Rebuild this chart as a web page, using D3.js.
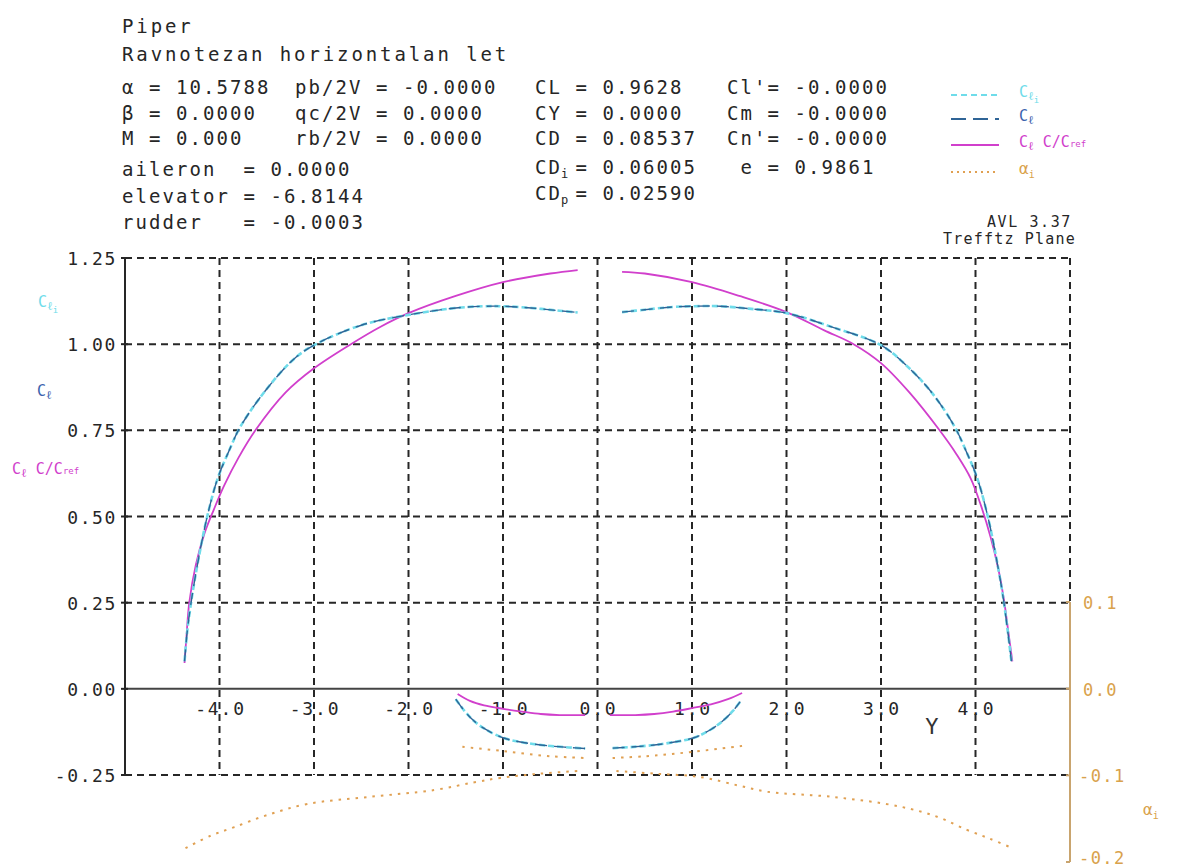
<!DOCTYPE html>
<html>
<head>
<meta charset="utf-8">
<script src="https://cdn.jsdelivr.net/npm/d3@7"></script>
<style>
  body { margin: 0; background: #fff; }
  text { font-family: "DejaVu Sans Mono", monospace; white-space: pre; }
</style>
</head>
<body>
<div id="chart"></div>
<script>
// axis ticks
var clTicks = [1.25, 1.00, 0.75, 0.50, 0.25, 0.00, -0.25];
var spanTicks = [-4, -3, -2, -1, 0, 1, 2, 3, 4];
var alphaTicks = [0.1, 0.0, -0.1, -0.2];

// header text
var titleLines = ["Piper", "Ravnotezan horizontalan let"];
var runCol1 = ["α = 10.5788", "β = 0.0000", "M = 0.000"];
var runCol2 = ["pb/2V = -0.0000", "qc/2V = 0.0000", "rb/2V = 0.0000"];
var controlRows = ["aileron  = 0.0000", "elevator = -6.8144", "rudder   = -0.0003"];
var forceCol3 = ["CL = 0.9628", "CY = 0.0000", "CD = 0.08537"];
var dragRows = [["CD", "i", "= 0.06005"], ["CD", "p", "= 0.02590"]];
var momentCol4 = ["Cl'= -0.0000", "Cm = -0.0000", "Cn'= -0.0000", " e = 0.9861"];

// Cl c/cref  [span y, value]
var clcWingL = [[-4.37,0.075],[-4.35,0.15],[-4.32,0.25],[-4.25,0.36],[-4.16,0.45],[-4.06,0.52],[-3.95,0.59],
  [-3.80,0.67],[-3.62,0.75],[-3.30,0.86],[-3.00,0.93],[-2.61,1.00],[-2.30,1.05],[-2.00,1.09],[-1.50,1.14],
  [-1.00,1.18],[-0.50,1.205],[-0.21,1.215]];
var clcWingR = [[0.26,1.21],[0.50,1.205],[1.00,1.18],[1.50,1.14],[2.00,1.093],[2.40,1.04],[2.71,1.00],
  [3.00,0.945],[3.30,0.86],[3.62,0.75],[3.80,0.68],[3.95,0.61],[4.06,0.53],[4.16,0.44],[4.24,0.35],
  [4.30,0.26],[4.35,0.16],[4.39,0.08]];
var clcTailL = [[-1.48,-0.015],[-1.35,-0.035],[-1.20,-0.048],[-1.00,-0.058],[-0.80,-0.066],[-0.60,-0.073],
  [-0.40,-0.076],[-0.13,-0.076]];
var clcTailR = [[0.13,-0.076],[0.40,-0.076],[0.60,-0.073],[0.80,-0.066],[1.00,-0.056],[1.20,-0.045],
  [1.38,-0.030],[1.53,-0.012]];

// Cl and Cl_i (the two curves lie on top of each other)
var clWingL = [[-4.37,0.08],[-4.34,0.17],[-4.29,0.27],[-4.22,0.38],[-4.13,0.50],[-4.02,0.61],[-3.90,0.69],
  [-3.78,0.76],[-3.50,0.87],[-3.20,0.96],[-2.98,1.00],[-2.50,1.055],[-2.00,1.085],[-1.50,1.105],
  [-1.20,1.11],[-1.00,1.11],[-0.70,1.105],[-0.40,1.097],[-0.21,1.092]];
var clWingR = [[0.26,1.093],[0.50,1.10],[0.80,1.108],[1.00,1.11],[1.30,1.11],[1.60,1.103],[2.00,1.09],
  [2.50,1.048],[3.00,0.997],[3.30,0.93],[3.55,0.855],[3.78,0.76],[3.90,0.69],[4.02,0.61],[4.13,0.50],
  [4.22,0.38],[4.29,0.27],[4.34,0.17],[4.38,0.08]];
var clTailL = [[-1.50,-0.03],[-1.42,-0.06],[-1.32,-0.09],[-1.20,-0.115],[-1.00,-0.142],[-0.80,-0.155],
  [-0.53,-0.165],[-0.30,-0.170],[-0.13,-0.173]];
var clTailR = [[0.16,-0.172],[0.35,-0.169],[0.60,-0.163],[0.80,-0.155],[1.02,-0.142],[1.20,-0.118],
  [1.33,-0.092],[1.43,-0.065],[1.51,-0.037]];

// alpha_i on the right hand scale
var alphaWingL = [[-4.36,-0.184],[-4.10,-0.170],[-3.85,-0.160],[-3.50,-0.146],[-3.07,-0.133],
  [-2.43,-0.125],[-1.73,-0.117],[-1.30,-0.108],[-1.03,-0.103],[-0.60,-0.098],[-0.20,-0.095]];
var alphaWingR = [[0.20,-0.095],[0.60,-0.098],[1.09,-0.102],[1.50,-0.112],[1.80,-0.119],[2.50,-0.125],
  [3.20,-0.136],[3.60,-0.148],[3.91,-0.163],[4.15,-0.173],[4.39,-0.184]];
var alphaTailL = [[-1.43,-0.067],[-1.00,-0.072],[-0.50,-0.078],[-0.13,-0.080]];
var alphaTailR = [[0.16,-0.080],[0.50,-0.078],[1.00,-0.073],[1.53,-0.066]];

var colors = {
  cli: "#6fdcea",
  cl: "#2f6496",
  clText: "#3b63ad",
  clc: "#d13fcc",
  alpha: "#e0a052",
  alphaText: "#d9a24c",
  alphaAxis: "#c9a46e",
  ink: "#262626"
};

var width = 1182, height = 868;

var svg = d3.select("#chart").append("svg")
    .attr("width", width)
    .attr("height", height);

var x = d3.scaleLinear().domain([-5, 5]).range([125, 1070]),
    y = d3.scaleLinear().domain([-0.25, 1.25]).range([775, 258]),
    a = d3.scaleLinear().domain([-0.2, 0.1]).range([862, 602]);

var mono = function(sel, size, ls) {
  return sel.attr("font-size", size).attr("letter-spacing", ls);
};

// ---- header
var head = svg.append("g").attr("fill", colors.ink);

titleLines.forEach(function(t, i) {
  mono(head.append("text"), 19, 2.9).attr("x", 122).attr("y", 33 + i * 28).text(t);
});
runCol1.forEach(function(t, i) {
  mono(head.append("text"), 19, 2.06).attr("x", 122).attr("y", 94 + i * 25.5).text(t);
});
runCol2.forEach(function(t, i) {
  mono(head.append("text"), 19, 2.06).attr("x", 295).attr("y", 94 + i * 25.5).text(t);
});
controlRows.forEach(function(t, i) {
  mono(head.append("text"), 19, 2.06).attr("x", 122).attr("y", 176 + i * 26.5).text(t);
});
forceCol3.forEach(function(t, i) {
  mono(head.append("text"), 19, 2.06).attr("x", 535).attr("y", 94 + i * 25.5).text(t);
});
dragRows.forEach(function(r, i) {
  var yy = 174 + i * 25.5;
  mono(head.append("text"), 19, 2.06).attr("x", 535).attr("y", yy).text(r[0]);
  head.append("text").attr("font-size", 12).attr("x", 561).attr("y", yy + 4).text(r[1]);
  mono(head.append("text"), 19, 2.06).attr("x", 575.5).attr("y", yy).text(r[2]);
});
momentCol4.forEach(function(t, i) {
  var yy = i < 3 ? 94 + i * 25.5 : 174;
  mono(head.append("text"), 19, 2.06).attr("x", 727).attr("y", yy).text(t);
});

mono(head.append("text"), 15, 1.6).attr("x", 1072).attr("y", 227)
    .attr("text-anchor", "end").text("AVL 3.37");
mono(head.append("text"), 15, 1.2).attr("x", 1076).attr("y", 244)
    .attr("text-anchor", "end").text("Trefftz Plane");

// label with small sub parts: [text, size, dy]
function subLabel(g, px, py, color, parts) {
  var t = g.append("text").attr("x", px).attr("y", py).attr("fill", color);
  parts.forEach(function(p) {
    t.append("tspan").attr("font-size", p[1]).attr("dy", p[2]).text(p[0]);
  });
  return t;
}
var cliParts = [["C", 15, 0], ["ℓ", 12, 3], ["i", 9, 3]];
var clParts = [["C", 15, 0], ["ℓ", 12, 3]];
var clcParts = [["C", 15, 0], ["ℓ", 12, 3], [" C/C", 15, -3], ["ref", 9, 0]];
var alphaParts = [["α", 16, 0], ["i", 10, 4]];

// ---- grid
var grid = svg.append("g")
    .attr("stroke", colors.ink)
    .attr("stroke-width", 2)
    .attr("stroke-dasharray", "7,5");

grid.selectAll(".hgrid")
  .data(clTicks.filter(function(d) { return d !== 0; }))
  .enter().append("line")
    .attr("x1", x(-5)).attr("x2", x(5))
    .attr("y1", function(d) { return y(d); })
    .attr("y2", function(d) { return y(d); });

grid.selectAll(".vgrid")
  .data(spanTicks.concat([5]))
  .enter().append("line")
    .attr("x1", function(d) { return x(d); })
    .attr("x2", function(d) { return x(d); })
    .attr("y1", y(1.25)).attr("y2", y(-0.25));

// zero line and left axis
svg.append("line")
    .attr("x1", x(-5)).attr("x2", x(5))
    .attr("y1", y(0)).attr("y2", y(0))
    .attr("stroke", "#444").attr("stroke-width", 2);
svg.append("line")
    .attr("x1", x(-5)).attr("x2", x(-5))
    .attr("y1", y(1.25) - 1).attr("y2", y(-0.25) + 1)
    .attr("stroke", colors.ink).attr("stroke-width", 2);

svg.selectAll(".ytick")
  .data(clTicks)
  .enter().append("line")
    .attr("x1", x(-5) - 4).attr("x2", x(-5) + 3)
    .attr("y1", function(d) { return y(d); })
    .attr("y2", function(d) { return y(d); })
    .attr("stroke", colors.ink).attr("stroke-width", 2);

svg.selectAll(".ylabel")
  .data(clTicks)
  .enter().append("text")
    .attr("x", 117)
    .attr("y", function(d) { return y(d) + 7; })
    .attr("text-anchor", "end")
    .attr("font-size", 18).attr("letter-spacing", 1.6)
    .attr("fill", colors.ink)
    .text(function(d) { return d3.format(".2f")(d).replace("−", "-"); });

svg.selectAll(".xlabel")
  .data(spanTicks)
  .enter().append("text")
    .attr("x", function(d) { return x(d) + 1; })
    .attr("y", y(0) + 26)
    .attr("text-anchor", "middle")
    .attr("font-size", 18).attr("letter-spacing", 1.8)
    .attr("fill", colors.ink)
    .text(function(d) { return d3.format(".1f")(d).replace("−", "-"); });

svg.append("text")
    .attr("x", x(3.5) - 3).attr("y", y(0) + 45)
    .attr("font-size", 22).attr("fill", "#333")
    .text("Y");

// left axis series names
subLabel(svg, 38, 307, colors.cli, cliParts);
subLabel(svg, 37, 396, colors.clText, clParts);
subLabel(svg, 12, 474, colors.clc, clcParts);

// ---- alpha_i axis on the right
svg.append("line")
    .attr("x1", x(5)).attr("x2", x(5))
    .attr("y1", a(0.1)).attr("y2", a(-0.2))
    .attr("stroke", colors.alphaAxis).attr("stroke-width", 2);
svg.selectAll(".atick")
  .data(alphaTicks)
  .enter().append("line")
    .attr("x1", x(5) - 4).attr("x2", x(5))
    .attr("y1", function(d) { return a(d); })
    .attr("y2", function(d) { return a(d); })
    .attr("stroke", colors.alphaAxis).attr("stroke-width", 2);
svg.selectAll(".alabel")
  .data(alphaTicks)
  .enter().append("text")
    .attr("x", function(d) { return d < 0 ? 1079 : 1083; })
    .attr("y", function(d) { return Math.min(a(d) + 7, 864); })
    .attr("font-size", 17).attr("letter-spacing", 1.4)
    .attr("fill", colors.alphaText)
    .text(function(d) { return d3.format(".1f")(d).replace("−", "-"); });
subLabel(svg, 1143, 815, colors.alphaText, alphaParts);

// ---- curves
var clLine = d3.line()
    .x(function(d) { return x(d[0]); })
    .y(function(d) { return y(d[1]); })
    .curve(d3.curveCatmullRom.alpha(0.5));
var alphaLine = d3.line()
    .x(function(d) { return x(d[0]); })
    .y(function(d) { return a(d[1]); })
    .curve(d3.curveCatmullRom.alpha(0.5));

var curves = svg.append("g").attr("fill", "none");

curves.selectAll(".alpha")
  .data([alphaWingL, alphaWingR, alphaTailL, alphaTailR])
  .enter().append("path")
    .attr("d", alphaLine)
    .attr("stroke", colors.alpha)
    .attr("stroke-width", 2)
    .attr("stroke-dasharray", "2.5,6");

curves.selectAll(".clc")
  .data([clcWingL, clcWingR, clcTailL, clcTailR])
  .enter().append("path")
    .attr("d", clLine)
    .attr("stroke", colors.clc)
    .attr("stroke-width", 1.8);

curves.selectAll(".cli")
  .data([clWingL, clWingR, clTailL, clTailR])
  .enter().append("path")
    .attr("d", clLine)
    .attr("stroke", colors.cli)
    .attr("stroke-width", 2.6)
    .attr("stroke-dasharray", "6,3");

curves.selectAll(".cl")
  .data([clWingL, clWingR, clTailL, clTailR])
  .enter().append("path")
    .attr("d", clLine)
    .attr("stroke", colors.cl)
    .attr("stroke-width", 1.4)
    .attr("stroke-dasharray", "12,7");

// ---- legend
var legend = [
  { parts: cliParts, color: colors.cli, text: colors.cli, dash: "6,4", yy: 95 },
  { parts: clParts, color: colors.cl, text: colors.clText, dash: "15,7", yy: 119 },
  { parts: clcParts, color: colors.clc, text: colors.clc, dash: null, yy: 145 },
  { parts: alphaParts, color: colors.alpha, text: colors.alphaText, dash: "2,4", yy: 172 }
];
var lg = svg.append("g");
legend.forEach(function(d) {
  lg.append("line")
      .attr("x1", 951).attr("x2", 999)
      .attr("y1", d.yy).attr("y2", d.yy)
      .attr("stroke", d.color).attr("stroke-width", 2)
      .attr("stroke-dasharray", d.dash);
  subLabel(lg, 1019, d.yy + 2, d.text, d.parts);
});
</script>
</body>
</html>
